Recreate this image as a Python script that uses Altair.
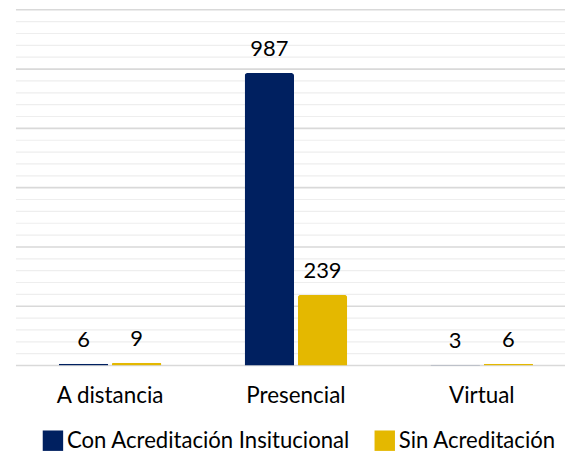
import altair as alt
import pandas as pd

categories = ["A distancia", "Presencial", "Virtual"]
series = ["Con Acreditación Insitucional", "Sin Acreditación"]
con_values = [6, 987, 3]
sin_values = [9, 239, 6]
colors = ["#002060", "#E4B800"]

major_ticks = list(range(0, 1201, 200))
minor_ticks = [v for v in range(40, 1200, 40) if v % 200 != 0]

rows = []
for c, a, b in zip(categories, con_values, sin_values):
    rows.append({"Modalidad": c, "Serie": series[0], "Valor": a})
    rows.append({"Modalidad": c, "Serie": series[1], "Valor": b})
df = pd.DataFrame(rows)

FONT = "Lato"
FS = 22.5
FS_NUM = 22

yscale = alt.Scale(domain=[0, 1200], nice=False)
xscale = alt.Scale(paddingInner=0.448, paddingOuter=0.201, align=0.573)

minor = alt.Chart(pd.DataFrame({"g": minor_ticks})).mark_rule(
    color="#eeeeee", strokeWidth=1.2
).encode(y=alt.Y("g:Q", scale=yscale, axis=None))

major = alt.Chart(pd.DataFrame({"g": major_ticks})).mark_rule(
    color="#d9d9d9", strokeWidth=1.6
).encode(y=alt.Y("g:Q", scale=yscale, axis=None))

base = alt.Chart(df).encode(
    x=alt.X(
        "Modalidad:N",
        sort=categories,
        title=None,
        scale=xscale,
        axis=alt.Axis(
            labelAngle=0,
            domain=False,
            ticks=False,
            labelFont=FONT,
            labelFontSize=FS,
            labelColor="#000000",
            labelBaseline="alphabetic",
            labelPadding=37,
            grid=False,
            title=None,
        ),
    ),
    xOffset=alt.XOffset("Serie:N", sort=series, scale=alt.Scale(paddingInner=0.07)),
    y=alt.Y("Valor:Q", scale=yscale, title=None, axis=None),
)

bars = base.mark_bar(cornerRadiusTopLeft=3, cornerRadiusTopRight=3).encode(
    color=alt.Color(
        "Serie:N",
        sort=series,
        scale=alt.Scale(domain=series, range=colors),
        legend=alt.Legend(
            orient="none",
            legendX=26,
            legendY=421,
            direction="horizontal",
            title=None,
            symbolType="square",
            symbolSize=420,
            symbolStrokeWidth=0,
            symbolOpacity=1,
            labelFont=FONT,
            labelFontSize=22.2,
            labelColor="#000000",
            labelOffset=3,
            columnPadding=23,
            padding=0,
            labelLimit=400,
        ),
    ),
)

labels = base.mark_text(
    font=FONT, fontSize=FS_NUM, baseline="alphabetic", dy=-17, color="#000000"
).encode(text=alt.Text("Valor:Q"))

chart = (
    alt.layer(minor, major, bars, labels)
    .properties(
        width=551,
        height=357,
        padding={"left": 7, "top": 0, "right": 0, "bottom": 0},
    )
    .configure(background="#ffffff")
    .configure_view(strokeWidth=0, stroke=None)
)

chart.save("out.html", embed_options={"renderer": "svg", "actions": False})
